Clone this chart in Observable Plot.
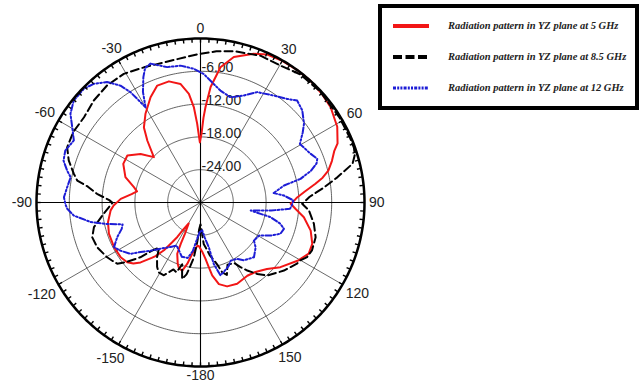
<!DOCTYPE html>
<html>
<head>
<meta charset="utf-8">
<script src="https://cdn.jsdelivr.net/npm/d3@7"></script>
<script src="https://cdn.jsdelivr.net/npm/@observablehq/plot@0.6"></script>
<style>
  html, body { margin: 0; padding: 0; background: #fff; }
  #wrap { position: relative; width: 642px; height: 387px; overflow: hidden; background: #fff; }
  #chart { position: absolute; left: 0; top: 0; }
  #legend { position: absolute; left: 378px; top: 4px; width: 253px; height: 98px; border: 4px solid #000; background: #fff;
            font: italic bold 10.5px "Liberation Serif", "Times New Roman", serif; color: #222; }
  .row { position: absolute; left: 0; width: 253px; height: 14px; }
  .row svg { position: absolute; left: 11px; top: 2px; }
  .row span { position: absolute; left: 66px; top: 0; line-height: 14px; white-space: nowrap; }
</style>
</head>
<body>
<div id="wrap"><div id="chart"></div><div id="legend"></div></div>
<script>
// ---------- data (angle in degrees, clockwise from top; gain in dB) ----------
const names = [
  "Radiation pattern in YZ plane at 5 GHz",
  "Radiation pattern in YZ plane at 8.5 GHz",
  "Radiation pattern in YZ plane at 12 GHz"
];
const colors = ["#f21616", "#000000", "#1d1dd6"];
const dashes = [null, "8,4", "6,2.2,1.6,2.2,1.6,2.2"];

const a5 = [-178,-176,-173,-170.8,-167.8,-165,-162,-159.7,-155.6,-154.5,-153.5,-150.5,-147.6,-146.1,-144.5,-142.6,-140,-138.6,-135,-132.3,-129.2,-124.4,-117.3,-108.8,-102,-95,-92,-87.4,-83,-80,-77,-71.3,-63.4,-57.3,-51,-45.8,-40.7,-37,-31.8,-25.4,-20.3,-14.6,-9.6,-6.1,-4,-2.4,-0.6,0.8,2,3,5,8.4,12.9,19.7,24.3,30,36,42,48,53.8,61,66.7,69,72.5,76,78.5,80.7,84,87,89,90.8,93.8,98.1,104.3,110.3,115.3,121,129,135,141.7,147.4,155.7,162.4,167.3,170.9,172.7,175,178];
const v5 = [-22.0,-22.1,-21.3,-20.5,-18.5,-17.1,-17.3,-18.0,-19.7,-21.6,-23.6,-25.6,-24.3,-22.4,-21.0,-19.0,-17.2,-16.5,-14.5,-13.4,-12.7,-12.3,-12.2,-12.3,-12.7,-13.5,-14.1,-15.4,-17.3,-18.2,-17.5,-15.5,-14.2,-14.1,-15.9,-18.1,-15.1,-12.8,-10.9,-8.7,-7.2,-7.1,-8.0,-10.0,-12.5,-15.6,-19.0,-17.5,-14.5,-12.5,-8.8,-5.0,-2.7,-1.1,-0.3,-0.1,0,0,-0.2,-0.5,-1.4,-2.7,-3.8,-4.8,-5.9,-7.2,-8.7,-10.8,-12.3,-12.9,-13.5,-12.6,-10.9,-9.2,-8.2,-8.1,-9.3,-11.2,-12.8,-13.8,-14.1,-13.7,-13.9,-14.7,-16.5,-18.1,-19.7,-21.0];

const a85 = [-180,-177,-175.5,-174,-173,-171,-169,-166.5,-165,-163.5,-161,-158,-153.3,-149,-146,-141.6,-137.5,-134.8,-132.3,-128.6,-126.3,-123,-120.4,-113.4,-107.8,-103,-97.5,-93,-90.2,-88.5,-85.2,-82,-79.9,-77.1,-72.3,-67.5,-60.9,-53.8,-46.3,-38.6,-30.8,-22.7,-11.9,-1.3,6,12.4,22.2,30.3,37.8,47,58.6,66.9,70.4,73,75.7,79.5,83,87,90.7,94.2,100.6,106.8,113.3,117.1,120.1,122.4,129.2,137.6,141.5,145.5,148.3,150.8,156.5,160,162.7,164.5,167,170,172.5,175.6,178.5];
const v85 = [-26.0,-25.0,-23.0,-21.2,-19.8,-18.3,-16.6,-15.6,-17.0,-18.2,-16.5,-16.8,-15.1,-15.1,-15.8,-17.2,-18.8,-17.5,-15.1,-12.5,-11.1,-10.6,-10.2,-9.4,-9.2,-10.0,-11.9,-13.2,-13.9,-13.3,-11.0,-9.2,-7.1,-6.2,-4.7,-3.6,-3.4,-3.6,-3.0,-2.6,-2.6,-3.2,-3.5,-2.9,-2.2,-1.65,-1.0,-1.0,-0.3,-0.15,-0.2,-0.2,-0.2,-0.5,-1.3,-4.5,-7.2,-10.0,-11.4,-10.1,-8.9,-8.0,-7.8,-8.1,-8.9,-9.1,-10.3,-11.9,-13.3,-14.9,-16.1,-17.3,-17.6,-15.9,-16.6,-18.0,-19.2,-20.2,-21.4,-22.4,-25.5];

const a12 = [-178,-174,-171,-167,-161,-155,-151,-146,-139,-134,-129.6,-126.2,-121,-117.3,-112.6,-108.5,-105.7,-103,-100.1,-95.9,-92.7,-90.8,-87.8,-83.5,-79,-76.5,-73,-69,-63.9,-59.6,-55.7,-51.2,-45.7,-42,-37.8,-34.4,-32.4,-31.4,-30,-27.5,-24.5,-22.4,-19.8,-13.8,-8.3,-2.9,1.5,6.4,10.1,15.9,22,27.2,34.4,39.9,43.5,47.9,52.7,55.5,59.5,66,69.5,71.4,74,76.7,78.5,82.7,85.2,88.7,92,94,96.5,99.1,100.7,101.8,104.9,107.5,111.4,115.2,119.5,125.5,129.1,135.7,143.3,147,152.6,156,161.5,164.7,167.8,169.5,173,176.5];
const v12 = [-24.5,-23.0,-21.0,-19.6,-19.5,-20.5,-21.0,-20.2,-18.8,-17.3,-15.8,-14.1,-12.9,-12.2,-13.5,-14.8,-15.2,-12.5,-9.6,-6.7,-5.6,-5.3,-5.0,-5.45,-5.8,-4.9,-3.8,-3.5,-4.2,-2.8,-1.2,-0.25,-0.2,-0.8,-2.1,-4.1,-6.1,-7.8,-9.9,-7.2,-4.8,-3.4,-3.0,-4.5,-4.7,-5.5,-6.5,-8.2,-9.2,-10.0,-8.9,-7.3,-6.3,-5.3,-4.3,-4.9,-6.2,-7.3,-8.9,-8.0,-7.2,-7.6,-9.0,-11.2,-14.4,-16.5,-14.7,-13.0,-13.3,-13.6,-17.0,-20.7,-18.8,-16.9,-14.9,-14.0,-14.3,-15.8,-17.7,-18.0,-17.0,-16.0,-16.8,-17.7,-18.0,-17.3,-16.6,-16.2,-18.5,-21.7,-23.5,-24.9];

const ringDb = [-24, -18, -12, -6];
const ringLabels = ["-24.00", "-18.00", "-12.00", "-6.00"];
const spokeAngles = [0, 30, 60, 90, 120, 150, 180, 210, 240, 270, 300, 330];
const angleLabels = ["0", "30", "60", "90", "120", "150", "-180", "-150", "-120", "-90", "-60", "-30"];
const dbMin = -30, dbMax = 0;

// ---------- geometry helpers (polar via azimuthal projection) ----------
const outerPx = 164;
const pxPerDb = outerPx / (dbMax - dbMin);
const lon = a => 180 - a;                 // clockwise from top
const lat = v => 90 - (v - dbMin);        // radius in degrees from the pole
const circle = v => d3.geoCircle().center([0, 90]).radius(v - dbMin).precision(1)();

function labelOffsetDb(a, txt) {
  const w = [...txt].reduce((s, c) => s + (c === "-" ? 4.7 : 7.8), 0);
  const h = 10;
  const t = a * Math.PI / 180;
  const ext = Math.abs(Math.sin(t)) * w / 2 + Math.abs(Math.cos(t)) * h / 2;
  return (4.5 + ext) / pxPerDb;
}

const seriesData = [[a5, v5], [a85, v85], [a12, v12]].map(([as, vs]) => as.map((a, j) => ({a, v: vs[j]})));

const curveMarks = seriesData.map((data, i) => Plot.line(data, {
  x: d => lon(d.a), y: d => lat(d.v),
  stroke: colors[i], strokeWidth: 2,
  ...(dashes[i] ? {strokeDasharray: dashes[i]} : {}),
  curve: "linear-closed"
}));

const plot = Plot.plot({
  width: 400, height: 387,
  marginLeft: 36, marginRight: 36, marginTop: 38, marginBottom: 21,
  style: {fontFamily: "'Liberation Sans', Arial, sans-serif", background: "transparent", overflow: "visible"},
  projection: {
    type: "azimuthal-equidistant",
    rotate: [0, -90],
    domain: circle(dbMax),
    clip: 90
  },
  marks: [
    Plot.geo(ringDb, {geometry: circle, stroke: "#3a3a3a", strokeWidth: 0.8, fill: "none"}),
    Plot.link(spokeAngles.filter(a => a % 90 !== 0), {x1: lon, y1: lat(dbMax), x2: lon, y2: lat(dbMin), stroke: "#444", strokeWidth: 0.8}),
    Plot.link(spokeAngles.filter(a => a % 90 === 0), {x1: lon, y1: lat(dbMax), x2: lon, y2: lat(dbMin), stroke: "#000", strokeWidth: 1.1}),
    Plot.text(ringDb, {x: lon(0), y: v => lat(v), text: (v, i) => ringLabels[i], textAnchor: "start", dx: 1, dy: -3.5, fontSize: 14, fill: "#222"}),
    ...curveMarks,
    Plot.geo([dbMax], {geometry: circle, stroke: "#000", strokeWidth: 2.5, fill: "none"}),
    Plot.link(d3.range(0, 360, 3), {x1: lon, y1: lat(dbMax), x2: lon, y2: lat(dbMax - 0.75), stroke: "#000", strokeWidth: 1.4}),
    Plot.text(spokeAngles, {x: lon, y: (a, i) => lat(dbMax + labelOffsetDb(a, angleLabels[i])), text: (a, i) => angleLabels[i], textAnchor: "middle", lineAnchor: "middle", fontSize: 14, fill: "#222"})
  ]
});
document.getElementById("chart").appendChild(plot);

// ---------- legend ----------
const legend = document.getElementById("legend");
const rowCenters = [18, 49, 80];
names.forEach((name, i) => {
  const row = document.createElement("div");
  row.className = "row";
  row.style.top = (rowCenters[i] - 7) + "px";
  const legendDash = [null, "9,3.5", "3,1.2,2,1.2,2,1.2"][i];
  row.innerHTML = `<svg width="37" height="10"><line x1="0" y1="5" x2="36" y2="5" stroke="${colors[i]}" stroke-width="${i === 2 ? 3 : 4}"${legendDash ? ` stroke-dasharray="${legendDash}"` : ""}/></svg><span>${name}</span>`;
  legend.appendChild(row);
});
</script>
</body>
</html>
